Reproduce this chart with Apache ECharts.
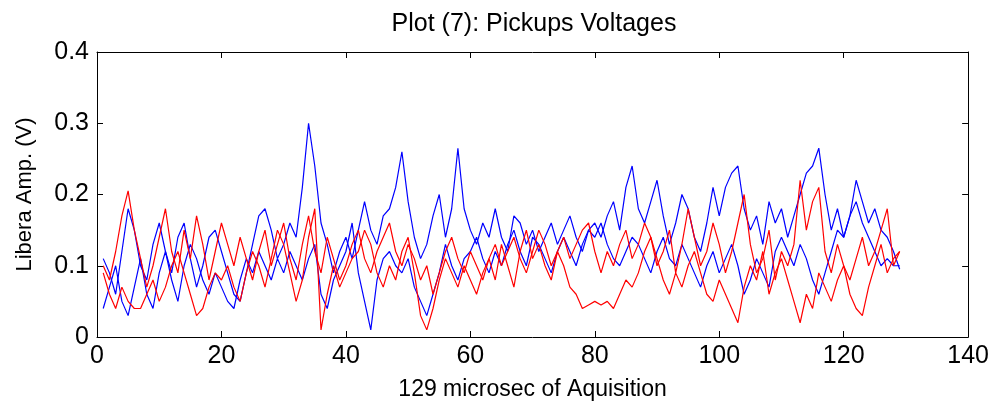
<!DOCTYPE html>
<html>
<head>
<meta charset="utf-8">
<script src="https://cdn.jsdelivr.net/npm/echarts@6/dist/echarts.min.js"></script>
<style>
  html, body { margin: 0; padding: 0; background: #fff; }
  #chart { width: 992px; height: 414px; }
</style>
</head>
<body>
<div id="chart"></div>
<script>
// Pickup voltages, one sample per microsecond (1..129)
const blueA = [
  0.11,0.09,0.06,0.12,0.18,0.15,0.10,0.08,0.13,0.16,
  0.12,0.09,0.14,0.16,0.11,0.07,0.10,0.14,0.15,0.12,
  0.09,0.06,0.05,0.09,0.13,0.17,0.18,0.15,0.11,0.13,
  0.16,0.14,0.21,0.30,0.24,0.16,0.13,0.09,0.12,0.14,
  0.11,0.15,0.19,0.15,0.13,0.17,0.18,0.21,0.26,0.19,
  0.14,0.11,0.13,0.17,0.20,0.14,0.18,0.265,0.18,0.15,
  0.13,0.16,0.14,0.18,0.14,0.12,0.17,0.16,0.13,0.15,
  0.12,0.14,0.16,0.13,0.15,0.17,0.14,0.12,0.15,0.16,
  0.14,0.17,0.19,0.15,0.21,0.24,0.18,0.16,0.19,0.22,
  0.17,0.13,0.16,0.20,0.18,0.14,0.12,0.16,0.21,0.17,
  0.21,0.23,0.24,0.18,0.15,0.17,0.13,0.19,0.16,0.18,
  0.14,0.17,0.20,0.23,0.24,0.265,0.20,0.15,0.18,0.14,
  0.17,0.22,0.19,0.16,0.18,0.15,0.14,0.12,0.095
];
const blueB = [
  0.04,0.07,0.10,0.05,0.03,0.07,0.11,0.06,0.04,0.09,
  0.12,0.08,0.05,0.10,0.13,0.11,0.08,0.06,0.09,0.07,
  0.05,0.04,0.08,0.11,0.09,0.12,0.10,0.08,0.11,0.09,
  0.12,0.10,0.08,0.11,0.13,0.06,0.04,0.08,0.10,0.12,
  0.16,0.09,0.05,0.01,0.08,0.11,0.12,0.10,0.09,0.11,
  0.07,0.05,0.03,0.06,0.09,0.13,0.10,0.08,0.11,0.12,
  0.14,0.11,0.09,0.12,0.10,0.13,0.15,0.12,0.10,0.14,
  0.13,0.11,0.09,0.12,0.14,0.12,0.10,0.13,0.15,0.14,
  0.16,0.13,0.11,0.10,0.12,0.14,0.13,0.11,0.09,0.12,
  0.14,0.11,0.10,0.13,0.11,0.09,0.07,0.10,0.12,0.09,
  0.11,0.13,0.10,0.06,0.08,0.11,0.09,0.07,0.12,0.14,
  0.12,0.10,0.13,0.11,0.08,0.06,0.09,0.12,0.15,0.14,
  0.17,0.19,0.16,0.14,0.12,0.10,0.11,0.10,0.10
];
const redA = [
  0.10,0.08,0.12,0.17,0.205,0.15,0.11,0.07,0.10,0.14,
  0.18,0.12,0.09,0.15,0.11,0.17,0.13,0.08,0.12,0.16,
  0.13,0.10,0.14,0.11,0.08,0.12,0.15,0.10,0.13,0.16,
  0.11,0.08,0.13,0.17,0.12,0.09,0.14,0.11,0.08,0.10,
  0.13,0.15,0.11,0.09,0.12,0.14,0.16,0.12,0.10,0.13,
  0.11,0.08,0.10,0.06,0.09,0.12,0.14,0.11,0.09,0.12,
  0.10,0.08,0.11,0.13,0.10,0.12,0.14,0.11,0.09,0.12,
  0.15,0.13,0.10,0.12,0.14,0.11,0.13,0.15,0.16,0.12,
  0.09,0.12,0.10,0.13,0.15,0.11,0.13,0.16,0.14,0.10,
  0.12,0.15,0.09,0.13,0.18,0.14,0.10,0.12,0.16,0.13,
  0.09,0.12,0.16,0.20,0.13,0.09,0.11,0.15,0.08,0.12,
  0.10,0.13,0.22,0.15,0.19,0.21,0.12,0.09,0.13,0.10,
  0.08,0.11,0.14,0.10,0.12,0.15,0.18,0.10,0.12
];
const redB = [
  0.09,0.06,0.04,0.07,0.05,0.04,0.04,0.06,0.08,0.05,
  0.07,0.10,0.12,0.09,0.06,0.03,0.04,0.07,0.09,0.08,
  0.10,0.07,0.05,0.09,0.12,0.10,0.07,0.11,0.15,0.13,
  0.09,0.05,0.08,0.14,0.18,0.01,0.06,0.10,0.07,0.09,
  0.11,0.12,0.15,0.13,0.09,0.07,0.10,0.08,0.12,0.14,
  0.09,0.03,0.01,0.04,0.08,0.11,0.09,0.07,0.10,0.08,
  0.06,0.09,0.11,0.08,0.13,0.10,0.07,0.12,0.15,0.11,
  0.13,0.10,0.08,0.12,0.10,0.07,0.06,0.04,0.045,0.05,
  0.045,0.05,0.04,0.06,0.08,0.07,0.09,0.12,0.14,0.11,
  0.08,0.06,0.09,0.07,0.10,0.12,0.09,0.06,0.05,0.08,
  0.06,0.04,0.02,0.07,0.10,0.08,0.12,0.06,0.09,0.11,
  0.08,0.05,0.02,0.06,0.04,0.09,0.07,0.05,0.08,0.10,
  0.06,0.04,0.03,0.07,0.10,0.13,0.09,0.11,0.12
];
const seriesList = [
  { name: 'Pickup 1', data: blueA, color: '#0000ff' },
  { name: 'Pickup 2', data: blueB, color: '#0000ff' },
  { name: 'Pickup 3', data: redA, color: '#ff0000' },
  { name: 'Pickup 4', data: redB, color: '#ff0000' }
];

const font = '"Liberation Sans", Arial, sans-serif';
const axisCommon = {
  type: 'value',
  axisLine: { show: true, onZero: false, lineStyle: { color: '#000', width: 1 } },
  axisTick: { show: true, inside: true, length: 6, lineStyle: { color: '#000' } },
  splitLine: { show: false }
};

const chart = echarts.init(document.getElementById('chart'));
chart.setOption({
  animation: false,
  backgroundColor: '#fff',
  title: {
    text: 'Plot (7): Pickups Voltages',
    left: 529, top: 7, textAlign: 'center',
    textStyle: { fontFamily: font, fontSize: 25, fontWeight: 'normal', color: '#000' }
  },
  grid: { left: 97, right: 22, top: 52, bottom: 77 },
  xAxis: [
    Object.assign({}, axisCommon, {
      min: 0, max: 140, interval: 20, position: 'bottom',
      name: '129 microsec of Aquisition', nameLocation: 'middle', nameGap: 41,
      nameTextStyle: { fontFamily: font, fontSize: 23, color: '#000' },
      axisLabel: { fontFamily: font, fontSize: 25, color: '#000', margin: 7 }
    }),
    Object.assign({}, axisCommon, {
      min: 0, max: 140, interval: 20, position: 'top',
      axisLabel: { show: false }
    })
  ],
  yAxis: [
    Object.assign({}, axisCommon, {
      min: 0, max: 0.4, interval: 0.1, position: 'left',
      name: 'Libera Amp. (V)', nameLocation: 'middle', nameGap: 61,
      nameTextStyle: { fontFamily: font, fontSize: 22, color: '#000' },
      axisLabel: { fontFamily: font, fontSize: 25, color: '#000', margin: 8,
        formatter: v => (v === 0 ? '0' : v.toFixed(1)) }
    }),
    Object.assign({}, axisCommon, {
      min: 0, max: 0.4, interval: 0.1, position: 'right',
      axisLabel: { show: false }
    })
  ],
  series: seriesList.map(s => ({
    name: s.name,
    type: 'line',
    xAxisIndex: 0, yAxisIndex: 0,
    showSymbol: false,
    lineStyle: { color: s.color, width: 1.2 },
    itemStyle: { color: s.color },
    data: s.data.map((v, i) => [i + 1, v])
  }))
});
</script>
</body>
</html>
